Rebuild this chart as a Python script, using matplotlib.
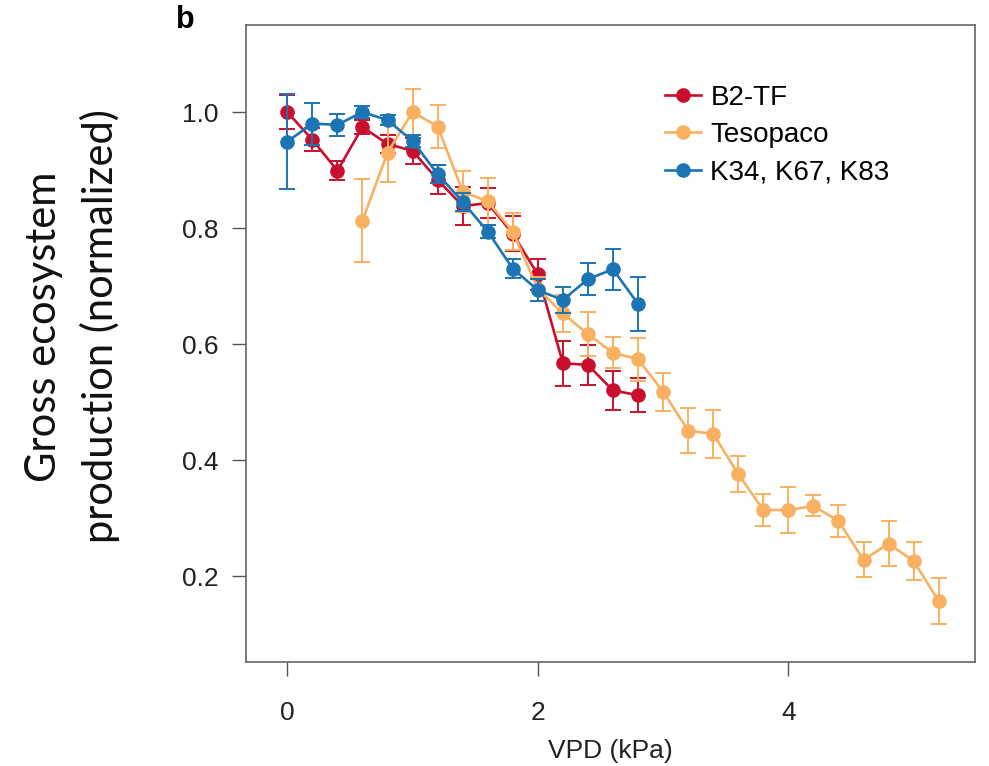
import matplotlib
matplotlib.use("Agg")
import matplotlib.pyplot as plt
from matplotlib.lines import Line2D

# ---- data ----
vpd_b2 = [0.0, 0.2, 0.4, 0.6, 0.8, 1.0, 1.2, 1.4, 1.6, 1.8, 2.0, 2.2, 2.4, 2.6, 2.8]
gep_b2 = [1.000, 0.952, 0.899, 0.974, 0.945, 0.933, 0.883, 0.838, 0.843, 0.790, 0.720, 0.567, 0.564, 0.520, 0.512]
err_b2 = [0.030, 0.020, 0.017, 0.012, 0.015, 0.023, 0.025, 0.033, 0.026, 0.030, 0.026, 0.039, 0.035, 0.034, 0.029]

vpd_tes = [0.6, 0.8, 1.0, 1.2, 1.4, 1.6, 1.8, 2.0, 2.2, 2.4, 2.6, 2.8, 3.0, 3.2, 3.4,
           3.6, 3.8, 4.0, 4.2, 4.4, 4.6, 4.8, 5.0, 5.2]
gep_tes = [0.813, 0.930, 1.000, 0.975, 0.863, 0.846, 0.794, 0.695, 0.653, 0.617, 0.585, 0.574, 0.518, 0.451, 0.445,
           0.376, 0.314, 0.314, 0.321, 0.295, 0.228, 0.256, 0.226, 0.157]
err_tes = [0.072, 0.050, 0.040, 0.037, 0.035, 0.040, 0.032, 0.020, 0.032, 0.038, 0.027, 0.037, 0.033, 0.038, 0.042,
           0.031, 0.028, 0.039, 0.018, 0.027, 0.030, 0.039, 0.033, 0.039]

vpd_k = [0.0, 0.2, 0.4, 0.6, 0.8, 1.0, 1.2, 1.4, 1.6, 1.8, 2.0, 2.2, 2.4, 2.6, 2.8]
gep_k = [0.949, 0.980, 0.978, 1.000, 0.986, 0.950, 0.893, 0.845, 0.794, 0.730, 0.693, 0.676, 0.712, 0.729, 0.669]
err_k = [0.082, 0.036, 0.019, 0.011, 0.009, 0.011, 0.015, 0.015, 0.012, 0.016, 0.019, 0.022, 0.028, 0.035, 0.047]

labels = ["B2-TF", "Tesopaco", "K34, K67, K83"]
colors = ["#C8102E", "#F9B161", "#1B75B5"]

xticks = [0, 2, 4]
yticks = [0.2, 0.4, 0.6, 0.8, 1.0]

plt.rcParams['font.family'] = ['Liberation Sans', 'DejaVu Sans']

fig = plt.figure(figsize=(9.89, 7.66), dpi=100)
ax = fig.add_axes([246/989, 104/766, (975-246)/989, (662-25)/766])

series = [(vpd_b2, gep_b2, err_b2), (vpd_tes, gep_tes, err_tes), (vpd_k, gep_k, err_k)]
order = [1, 0, 2]
for i in order:
    x, y, e = series[i]
    ax.errorbar(x, y, yerr=e, color=colors[i], marker='o', markersize=9.5,
                linewidth=1.9, elinewidth=1.4, capsize=6, capthick=1.4,
                zorder=3 + i)

ax.set_xlim(-0.33, 5.49)
ax.set_ylim(0.052, 1.15)
ax.set_xticks(xticks)
ax.set_xticklabels([str(t) for t in xticks])
ax.set_yticks(yticks)
ax.set_yticklabels([f"{t:.1f}" for t in yticks])
ax.tick_params(axis='both', direction='out', length=10, width=1.0, color='#555555',
               labelsize=19, labelcolor='#222222', pad=10)
ax.tick_params(axis='x', pad=18)
for s in ax.spines.values():
    s.set_color('#666666')
    s.set_linewidth(1.2)

ax.set_xlabel("VPD (kPa)", fontsize=19, color='#222222', labelpad=10)

fig.text(0.073, 0.574, "Gross ecosystem\nproduction (normalized)", rotation=90,
         ha='center', va='center', fontsize=30, family=['Lato', 'DejaVu Sans'],
         linespacing=1.5, color='#111111')

fig.text(185/989, 1 - 20/766, "b", fontsize=22, fontweight='bold', ha='center', va='center')

handles = [Line2D([], [], color=c, marker='o', markersize=9.5, linewidth=1.9) for c in colors]
leg = ax.legend(handles, labels, loc='upper left',
                bbox_to_anchor=(0.54, 0.945), frameon=False, fontsize=20,
                handlelength=1.3, handletextpad=0.35, labelspacing=0.4)

fig.savefig("out.png", dpi=100)
